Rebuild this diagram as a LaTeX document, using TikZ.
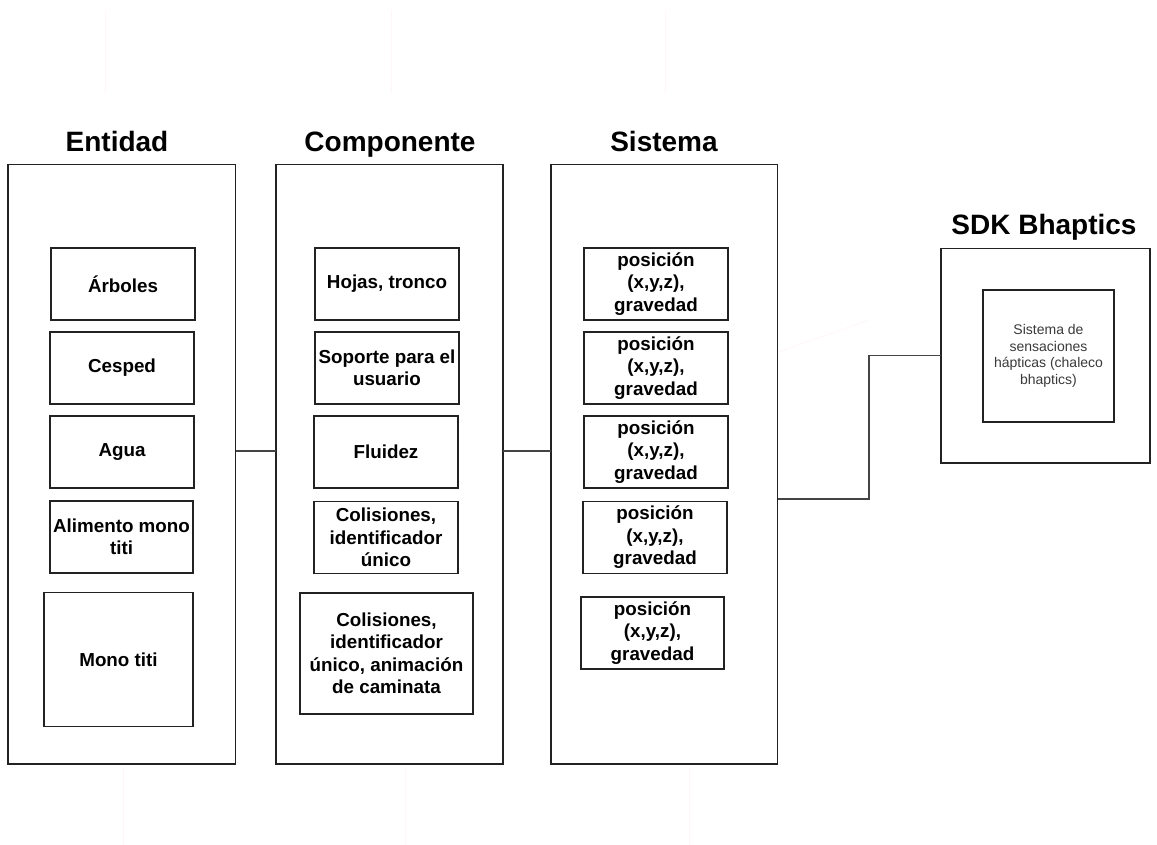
\documentclass[tikz,border=0pt]{standalone}
\usepackage{fontspec}
\setmainfont{Liberation Sans}
\definecolor{edge}{HTML}{222222}
\definecolor{wire}{HTML}{444444}
\definecolor{ghost}{HTML}{FFF6F8}
\definecolor{softtext}{HTML}{3A3A3A}
\begin{document}
\begin{tikzpicture}[x=1pt,y=-1pt,
  panel/.style={draw=edge,line width=1.2pt,inner sep=0pt,outer sep=0pt,fill=white},
  item/.style={panel,align=center,font=\fontsize{18.8}{22.5}\selectfont\bfseries},
  title/.style={anchor=base,font=\fontsize{28}{32}\selectfont\bfseries},
  conn/.style={draw=wire,line width=1.2pt},
  faint/.style={draw=ghost,line width=0.8pt}]
\useasboundingbox (0,0) rectangle (1157,845);

% faint guide strokes
\draw[faint] (105,10) -- (105,93);
\draw[faint] (391,10) -- (391,93);
\draw[faint] (665,10) -- (665,93);
\draw[faint] (123,767) -- (123,845);
\draw[faint] (405,767) -- (405,845);
\draw[faint] (689,767) -- (689,845);
\draw[faint] (778,352) -- (869,320);

% column titles
\node[title] (tEnt) at (117,152) {Entidad};
\node[title] (tComp) at (390,152) {Componente};
\node[title] (tSis) at (664,152) {Sistema};
\node[title] (tSdk) at (1044,235) {SDK Bhaptics};

% outer columns
\node[panel,minimum width=227.5pt,minimum height=599.5pt] (ent) at (121.75,464.25) {};
\node[panel,minimum width=227pt,minimum height=599.5pt] (comp) at (389.5,464.25) {};
\node[panel,minimum width=226.5pt,minimum height=599.5pt] (sis) at (664.25,464.25) {};

% Entidad items
\node[item,minimum width=144pt,minimum height=72pt] (e1) at (123,284) {Árboles};
\node[item,minimum width=144pt,minimum height=72pt] (e2) at (122,368) {Cesped};
\node[item,minimum width=144pt,minimum height=72pt] (e3) at (122,452) {Agua};
\node[item,minimum width=143pt,minimum height=72pt] (e4) at (121.5,537) {Alimento mono\\titi};
\node[item,minimum width=149pt,minimum height=134pt] (e5) at (118.5,659.6) {Mono titi};

% Componente items
\node[item,minimum width=144pt,minimum height=72pt] (c1) at (387,284) {Hojas, tronco};
\node[item,minimum width=144pt,minimum height=72pt] (c2) at (387,368) {Soporte para el\\usuario};
\node[item,minimum width=144pt,minimum height=72pt] (c3) at (386,452) {Fluidez};
\node[item,minimum width=144pt,minimum height=72pt] (c4) at (386,537.5) {Colisiones,\\identificador\\único};
\node[item,minimum width=173pt,minimum height=121pt] (c5) at (386.5,653.4) {Colisiones,\\identificador\\único, animación\\de caminata};

% Sistema items
\node[item,minimum width=144pt,minimum height=72pt] (s1) at (656,284) {posición\\(x,y,z),\\gravedad};
\node[item,minimum width=144pt,minimum height=72pt] (s2) at (656,368) {posición\\(x,y,z),\\gravedad};
\node[item,minimum width=144pt,minimum height=72pt] (s3) at (656,452) {posición\\(x,y,z),\\gravedad};
\node[item,minimum width=144pt,minimum height=72pt] (s4) at (655,537.5) {posición\\(x,y,z),\\gravedad};
\node[item,minimum width=143pt,minimum height=72pt] (s5) at (652.5,633) {posición\\(x,y,z),\\gravedad};

% SDK block
\node[panel,minimum width=209pt,minimum height=214.5pt] (sdk) at (1045.5,355.75) {};
\node[panel,minimum width=131pt,minimum height=132pt,align=center,text=softtext,
      font=\fontsize{14}{16.7}\selectfont] (haptic) at (1048.5,356)
      {Sistema de\\sensaciones\\hápticas (chaleco\\bhaptics)};

% connectors
\coordinate (j1) at (0,451);
\coordinate (j2) at (0,499);
\coordinate (k) at (869,0);
\draw[conn] (ent.east |- j1) -- (comp.west |- j1);
\draw[conn] (comp.east |- j1) -- (sis.west |- j1);
\draw[conn] (sis.east |- j2) -| (k |- sdk.west) -- (sdk.west);
\end{tikzpicture}
\end{document}
